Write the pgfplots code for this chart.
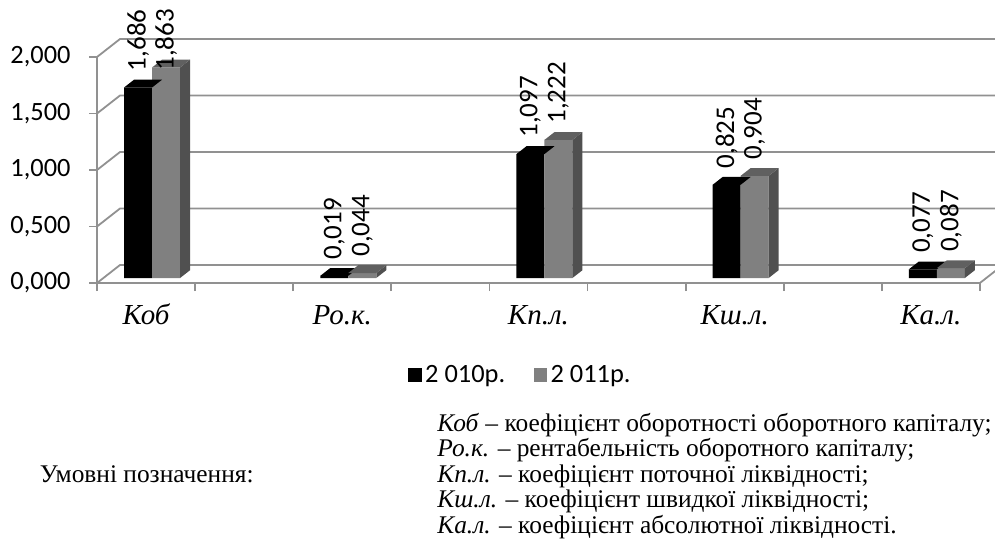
\documentclass[border=0pt]{standalone}
\usepackage{pgfplots}
\pgfplotsset{compat=1.18}
\usepackage{pgfplotstable}
\usepackage{fontspec}
\setmainfont{Carlito}
\newfontfamily\serif{Liberation Serif}
\definecolor{gridc}{RGB}{145,145,145}
\definecolor{barg}{RGB}{128,128,128}
\definecolor{topg}{RGB}{96,96,96}
\definecolor{sideg}{RGB}{80,80,80}
\pgfkeys{/pgf/number format/.cd, fixed, fixed zerofill, precision=3, use comma, assume math mode=true}

\pgfdeclareplotmark{topface}{%
 \pgfpathmoveto{\pgfpoint{-7pt}{0pt}}%
 \pgfpathlineto{\pgfpoint{7pt}{0pt}}%
 \pgfpathlineto{\pgfpoint{12pt}{3.9pt}}%
 \pgfpathlineto{\pgfpoint{-2pt}{3.9pt}}%
 \pgfpathclose\pgfusepath{fill}}
\pgfdeclareplotmark{sideface}{%
 \pgfpathmoveto{\pgfpoint{7pt}{0pt}}%
 \pgfpathlineto{\pgfpoint{12pt}{3.9pt}}%
 \pgfpathlineto{\pgfpoint{12pt}{3.9pt-\barh*56.5pt}}%
 \pgfpathlineto{\pgfpoint{7pt}{-\barh*56.5pt}}%
 \pgfpathclose\pgfusepath{fill}}

\pgfplotstableread{
x a b lb
0.5 1.686 1.863 1.690
2.5 0.019 0.044 0.044
4.5 1.097 1.222 1.222
6.5 0.825 0.904 0.904
8.5 0.077 0.087 0.087
}\data

\begin{document}
\begin{tikzpicture}
\begin{axis}[
 at={(0,0)}, anchor=south west,
 x=49.05pt, y=56.5pt,
 xmin=0, xmax=9, ymin=0, ymax=2,
 clip=false,
 axis lines=left,
 axis line style={-, draw=gridc, line width=0.9pt},
 tick align=outside, major tick length=4pt,
 tick style={draw=gridc, line width=0.9pt},
 xtick={0,...,9}, xticklabels={},
 extra x ticks={0.5,2.5,4.5,6.5,8.5},
 extra x tick labels={Коб,Ро.к.,Кп.л.,Кш.л.,Ка.л.},
 extra x tick style={major tick length=0pt, tick style={draw=none},
   xticklabel style={font=\serif\itshape\fontsize{14.5}{16}\selectfont, anchor=base, inner sep=0pt, yshift=-20.5pt}},
 ytick={0,0.5,...,2},
 yticklabel style={font=\fontsize{13.2}{15}\selectfont, anchor=east, inner sep=0pt, xshift=-9pt},
 legend image code/.code={\path[#1] (0pt,-3.3pt) rectangle (6.6pt,3.3pt);},
 legend style={draw=none, fill=none, at={(axis cs:3.17,-0.814)}, anchor=west,
   legend columns=2, inner sep=0pt, font=\fontsize{13.2}{15}\selectfont,
   nodes={inner sep=1.8pt},
   /tikz/every even column/.append style={column sep=12.5pt}},
 legend cell align=left,
]
\pgfplotsinvokeforeach{0,0.5,1,1.5,2}{
 \draw[gridc, line width=0.9pt] (axis cs:0,#1) -- ++(11.5pt,9pt) -- ([xshift=11.5pt,yshift=9pt]axis cs:9,#1);
}
\draw[gridc, line width=0.9pt] (axis cs:9,0) -- ++(11.5pt,9pt);

\addplot[ybar, bar width=0.2854, bar shift=-0.1427, fill=black, draw=none, xshift=3pt, yshift=2.5pt, forget plot] table[x=x, y=a]{\data};
\addplot[only marks, mark=topface, fill=black, draw=none, xshift=3pt, yshift=2.5pt, forget plot] table[x expr=\thisrow{x}-0.1427, y=a]{\data};
\addplot[ybar, bar width=0.2854, bar shift=0.1427, fill=barg, draw=none, xshift=3pt, yshift=2.5pt, forget plot] table[x=x, y=b]{\data};
\addplot[only marks, mark=sideface, fill=sideg, draw=none, xshift=3pt, yshift=2.5pt, forget plot,
  visualization depends on={\thisrow{b} \as \barh}] table[x expr=\thisrow{x}+0.1427, y=b]{\data};
\addplot[only marks, mark=topface, fill=topg, draw=none, xshift=3pt, yshift=2.5pt, forget plot] table[x expr=\thisrow{x}+0.1427, y=b]{\data};

\addplot[draw=none, mark=none, xshift=3pt, yshift=2.5pt, forget plot,
  nodes near coords, point meta=explicit,
  every node near coord/.append style={font=\fontsize{13.5}{15}\selectfont, yshift=8pt, rotate=90, anchor=west, inner sep=0pt}]
  table[x expr=\thisrow{x}-0.1427, y=a, meta=a]{\data};
\addplot[draw=none, mark=none, xshift=3pt, yshift=2.5pt, forget plot,
  nodes near coords, point meta=explicit,
  every node near coord/.append style={font=\fontsize{13.5}{15}\selectfont, yshift=8pt, rotate=90, anchor=west, inner sep=0pt}]
  table[x expr=\thisrow{x}+0.1427, y=lb, meta=b]{\data};

\addlegendimage{fill=black, draw=none}
\addlegendentry{2 010р.}
\addlegendimage{fill=barg, draw=none}
\addlegendentry{2 011р.}
\end{axis}

\begin{scope}[every node/.style={inner sep=0pt, font=\serif\fontsize{12.7}{14}\selectfont}]
\node[anchor=base east] at (78.5pt,-99.5pt) {Умовні позначення:};
\node[anchor=base west] at (170pt,-74pt) {\textit{Коб} – коефіцієнт оборотності оборотного капіталу;};
\node[anchor=base west] at (170pt,-86.75pt) {\textit{Ро.к.} – рентабельність оборотного капіталу;};
\node[anchor=base west] at (170pt,-99.5pt) {\textit{Кп.л.} – коефіцієнт поточної ліквідності;};
\node[anchor=base west] at (170pt,-112.25pt) {\textit{Кш.л.} – коефіцієнт швидкої ліквідності;};
\node[anchor=base west] at (170pt,-125pt) {\textit{Ка.л.} – коефіцієнт абсолютної ліквідності.};
\end{scope}
\pgfresetboundingbox
\path[use as bounding box] (-48.5pt,-135.5pt) rectangle (449pt,141.5pt);
\end{tikzpicture}
\end{document}
